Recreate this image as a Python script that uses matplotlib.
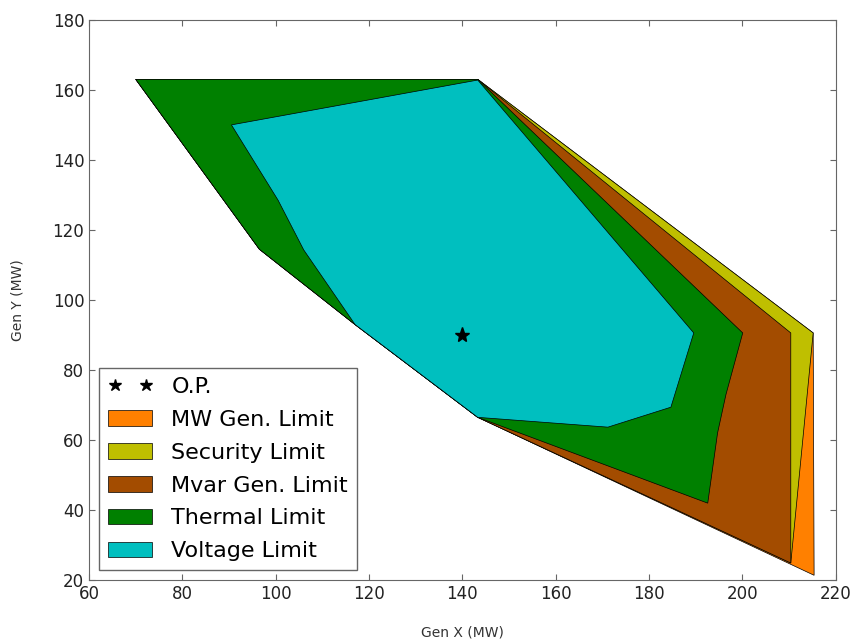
import matplotlib.pyplot as plt
from matplotlib.patches import Polygon

# vertices of the operating regions (Gen X, Gen Y) in MW
mw_x = [70, 143.3, 215.2, 215.4, 143.3, 117, 96.5]
mw_y = [163, 163, 90.6, 21.4, 66.5, 93, 114.5]

sec_x = [70, 143.3, 215.2, 210.4, 143.3, 117, 96.5]
sec_y = [163, 163, 90.6, 24.9, 66.5, 93, 114.5]

mvar_x = [70, 143.3, 210.4, 210.4, 143.3, 117, 96.5]
mvar_y = [163, 163, 90.6, 24.9, 66.5, 93, 114.5]

therm_x = [70, 143.3, 200.1, 196.5, 194.7, 192.6, 143.3, 117, 96.5]
therm_y = [163, 163, 90.6, 73, 62, 42, 66.5, 93, 114.5]

volt_x = [90.5, 143.3, 189.6, 184.7, 171.2, 143.3, 117, 106, 100.5]
volt_y = [150, 162.8, 90.6, 69.4, 63.7, 66.5, 93, 114.3, 128.5]

op_x = [140]
op_y = [90]

regions = [
    (mw_x, mw_y, '#ff8000', 'MW Gen. Limit'),
    (sec_x, sec_y, '#bfbf00', 'Security Limit'),
    (mvar_x, mvar_y, '#a34c00', 'Mvar Gen. Limit'),
    (therm_x, therm_y, '#008000', 'Thermal Limit'),
    (volt_x, volt_y, '#00bfbf', 'Voltage Limit'),
]

fig = plt.figure(figsize=(8.57, 6.39), dpi=100)
ax = fig.add_axes([0.104, 0.092, 0.871, 0.877])

handles = []
star, = ax.plot(op_x, op_y, '*', color='k', markersize=11, label='O.P.', zorder=10)
handles.append(star)
for xs, ys, col, lab in regions:
    p = Polygon(list(zip(xs, ys)), closed=True, facecolor=col,
                edgecolor='k', linewidth=0.5, label=lab)
    ax.add_patch(p)
    handles.append(p)

ax.set_xlim(60, 220)
ax.set_ylim(20, 180)
ax.set_xticks(range(60, 221, 20))
ax.set_yticks(range(20, 181, 20))
ax.tick_params(direction='in', top=True, right=True, labelsize=12, length=4,
               color='#666666', labelcolor='#222222')
for s in ax.spines.values():
    s.set_color('#666666')
ax.set_xlabel('Gen X (MW)', fontsize=10, labelpad=16, color='#333333')
ax.set_ylabel('Gen Y (MW)', fontsize=10, labelpad=20, color='#333333')

leg = ax.legend(handles=handles, loc='lower left', numpoints=2, fontsize=16,
                fancybox=False, framealpha=1, handlelength=2.0,
                handleheight=0.7, labelspacing=0.58, handletextpad=0.85,
                borderaxespad=0.45, borderpad=0.4, markerscale=0.85)
leg.get_frame().set_edgecolor('#666666')

fig.savefig('out.png', dpi=100)
